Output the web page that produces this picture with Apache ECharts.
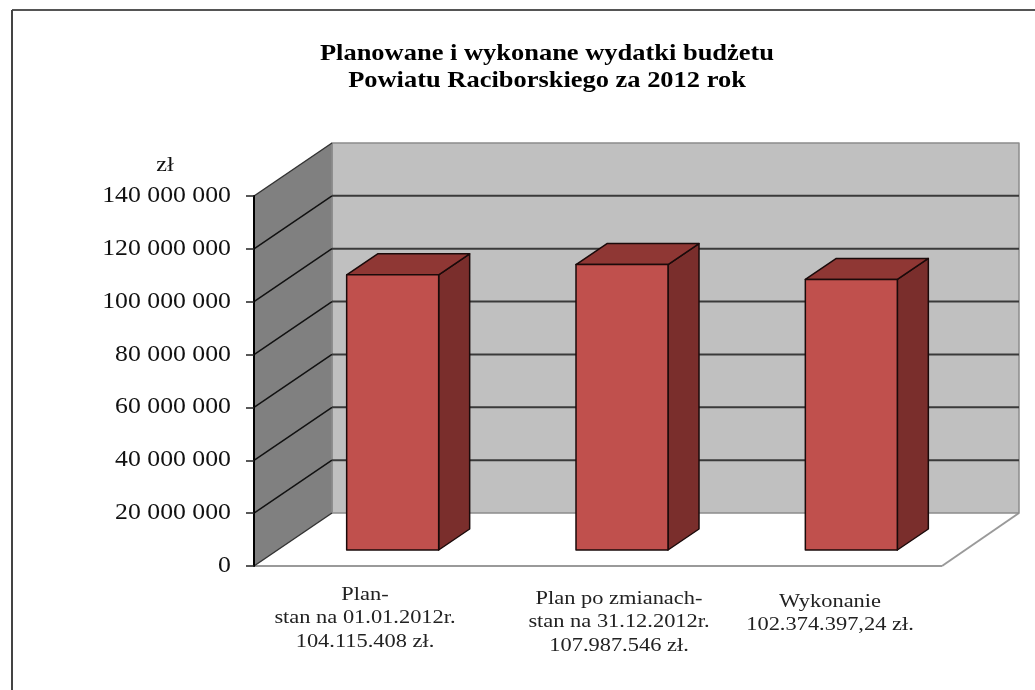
<!DOCTYPE html>
<html>
<head>
<meta charset="utf-8">
<style>html,body{margin:0;padding:0;background:#fff}#chart{width:1035px;height:690px}</style>
<script src="https://cdn.jsdelivr.net/npm/echarts@6/dist/echarts.min.js"></script>
</head>
<body>
<div id="chart"></div>
<script>
const categories = ['Plan-\nstan na 01.01.2012r.\n104.115.408 zł.', 'Plan po zmianach-\nstan na 31.12.2012r.\n107.987.546 zł.', 'Wykonanie\n102.374.397,24 zł.'];
const budgetValues = [104115408, 107987546, 102374397.24];
const yTicks = [0, 20000000, 40000000, 60000000, 80000000, 100000000, 120000000, 140000000];
const yTickLabels = ['0', '20 000 000', '40 000 000', '60 000 000', '80 000 000', '100 000 000', '120 000 000', '140 000 000'];
const titleLines = ['Planowane i wykonane wydatki budżetu', 'Powiatu Raciborskiego za 2012 rok'];
const unitLabel = 'zł';

// przesuniecie sciany tylnej i slupkow (udawane 3D)
const WALL_DX = 78, WALL_DY = -53;
const BAR_DX = 24, BAR_DY = -16, BAR_W = 92, DEPTH_DX = 31, DEPTH_DY = -21;
// podpisy kategorii stoja w oryginale recznie, stad osobne pozycje
const labelCenterX = [365, 619, 830];
const labelTopY = [583, 587, 590];
const FONT = '"Liberation Serif", serif';
const TEXT_STRETCH = 1.12;

const chart = echarts.init(document.getElementById('chart'));

function poly(points, fill, stroke, width, z2) {
    return {
        type: 'polygon',
        z2: z2 || 0,
        shape: { points: points },
        style: { fill: fill, stroke: stroke, lineWidth: width === undefined ? 1 : width, lineJoin: 'round' }
    };
}

function line(x1, y1, x2, y2, color, width) {
    return {
        type: 'line',
        shape: { x1: x1, y1: y1, x2: x2, y2: y2 },
        style: { stroke: color, lineWidth: width, fill: null }
    };
}

// podloga i sciany, raz na caly wykres
function renderWalls(params, api) {
    if (params.dataIndex !== 0) return;
    const sys = params.coordSys;
    const left = sys.x, right = sys.x + sys.width;
    const y0 = api.coord([0, yTicks[0]])[1];
    const yTop = api.coord([0, yTicks[yTicks.length - 1]])[1];
    const backL = left + WALL_DX, backR = right + WALL_DX - 1;
    return {
        type: 'group',
        children: [
            poly([[left, y0], [right, y0], [backR, y0 + WALL_DY], [backL, y0 + WALL_DY]], '#fff', 'none', 0),
            line(left, y0, right, y0, '#9a9a9a', 2),
            line(right, y0, backR, y0 + WALL_DY, '#9a9a9a', 2),
            poly([[backL, y0 + WALL_DY], [backR, y0 + WALL_DY], [backR, yTop + WALL_DY], [backL, yTop + WALL_DY]], '#c0c0c0', '#8c8c8c', 1.5),
            poly([[left, y0], [backL, y0 + WALL_DY], [backL, yTop + WALL_DY], [left, yTop]], '#808080', 'none', 0),
            line(backL, yTop + WALL_DY, backL, y0 + WALL_DY, '#8c8c8c', 1.5)
        ]
    };
}

// linie siatki: ukos na scianie bocznej + poziomo na tylnej
function renderGridLine(params, api) {
    const v = api.value(0);
    const sys = params.coordSys;
    const left = sys.x, right = sys.x + sys.width;
    const y = api.coord([0, v])[1];
    const edge = v === yTicks[0] || v === yTicks[yTicks.length - 1];
    const children = [line(left, y, left + WALL_DX, y + WALL_DY, edge ? '#333' : '#111', 1.5)];
    if (!edge) children.push(line(left + WALL_DX, y + WALL_DY, right + WALL_DX - 1, y + WALL_DY, '#3a3a3a', 2));
    return { type: 'group', children: children };
}

function renderBar(params, api) {
    const i = api.value(0);
    const top = api.coord([i, api.value(1)]);
    const base = api.coord([i, 0]);
    const x1 = top[0] + BAR_DX - BAR_W / 2, x2 = x1 + BAR_W;
    const yT = top[1] + BAR_DY, yB = base[1] + BAR_DY;
    const border = '#1a0a0a';
    return {
        type: 'group',
        children: [
            poly([[x2, yT], [x2 + DEPTH_DX, yT + DEPTH_DY], [x2 + DEPTH_DX, yB + DEPTH_DY], [x2, yB]], '#7a2e2c', border, 1.5),
            poly([[x1, yT], [x1 + DEPTH_DX, yT + DEPTH_DY], [x2 + DEPTH_DX, yT + DEPTH_DY], [x2, yT]], '#8f3734', border, 1.5),
            poly([[x1, yT], [x2, yT], [x2, yB], [x1, yB]], '#c0504d', border, 1.5)
        ]
    };
}

// tekst poziomo rozciagniety jak w oryginale (skan jest szerszy niz wyzszy)
function stretchedText(text, x, y, font, align, stretch, color, lineHeight) {
    return {
        type: 'text',
        x: x,
        y: y,
        scaleX: stretch,
        style: {
            text: text,
            x: 0,
            y: 0,
            font: font,
            fill: color || '#111',
            align: align,
            verticalAlign: lineHeight ? 'top' : 'middle',
            lineHeight: lineHeight
        }
    };
}

function renderYLabel(params, api) {
    const y = api.coord([0, api.value(0)])[1];
    return stretchedText(yTickLabels[params.dataIndex], 231, y, '23px ' + FONT, 'right', TEXT_STRETCH);
}

function renderCategoryLabel(params) {
    const i = params.dataIndex;
    return stretchedText(categories[i], labelCenterX[i], labelTopY[i], '19px ' + FONT, 'center', 1.18, '#222', 23.5);
}

const option = {
    backgroundColor: '#fff',
    animation: false,
    grid: { left: 254, right: 93, top: 196, height: 370 },
    xAxis: {
        type: 'category',
        data: categories,
        axisLine: { show: false },
        axisTick: { show: false },
        axisLabel: { show: false }
    },
    yAxis: {
        type: 'value',
        min: 0,
        max: 140000000,
        interval: 20000000,
        z: 10,
        axisLine: { show: true, lineStyle: { color: '#000', width: 2 } },
        axisTick: { show: true, length: 8, lineStyle: { color: '#222', width: 1.5 } },
        axisLabel: { show: false },
        splitLine: { show: false }
    },
    graphic: [
        { type: 'line', shape: { x1: 12, y1: 10, x2: 1035, y2: 10 }, style: { stroke: '#555', lineWidth: 2 } },
        { type: 'line', shape: { x1: 12, y1: 10, x2: 12, y2: 690 }, style: { stroke: '#444', lineWidth: 2 } },
        { type: 'text', x: 547, y: 54, scaleX: 1.15, style: { text: titleLines[0], font: 'bold 23px ' + FONT, fill: '#000', align: 'center', verticalAlign: 'middle' } },
        { type: 'text', x: 547, y: 81, scaleX: 1.15, style: { text: titleLines[1], font: 'bold 23px ' + FONT, fill: '#000', align: 'center', verticalAlign: 'middle' } },
        { type: 'text', x: 165, y: 165, scaleX: 1.1, style: { text: unitLabel, font: '22px ' + FONT, fill: '#111', align: 'center', verticalAlign: 'middle' } }
    ],
    series: [
        { type: 'custom', z: 1, silent: true, clip: false, data: [0], renderItem: renderWalls },
        { type: 'custom', z: 2, silent: true, clip: false, data: yTicks.map(v => [v]), encode: { y: 0 }, renderItem: renderGridLine },
        { type: 'custom', z: 3, silent: true, clip: false, data: budgetValues.map((v, i) => [i, v]), encode: { x: 0, y: 1 }, renderItem: renderBar },
        { type: 'custom', z: 4, silent: true, clip: false, data: yTicks.map(v => [v]), encode: { y: 0 }, renderItem: renderYLabel },
        { type: 'custom', z: 4, silent: true, clip: false, data: categories.map((c, i) => [i]), encode: { x: 0 }, renderItem: renderCategoryLabel }
    ]
};
chart.setOption(option);
</script>
</body>
</html>
